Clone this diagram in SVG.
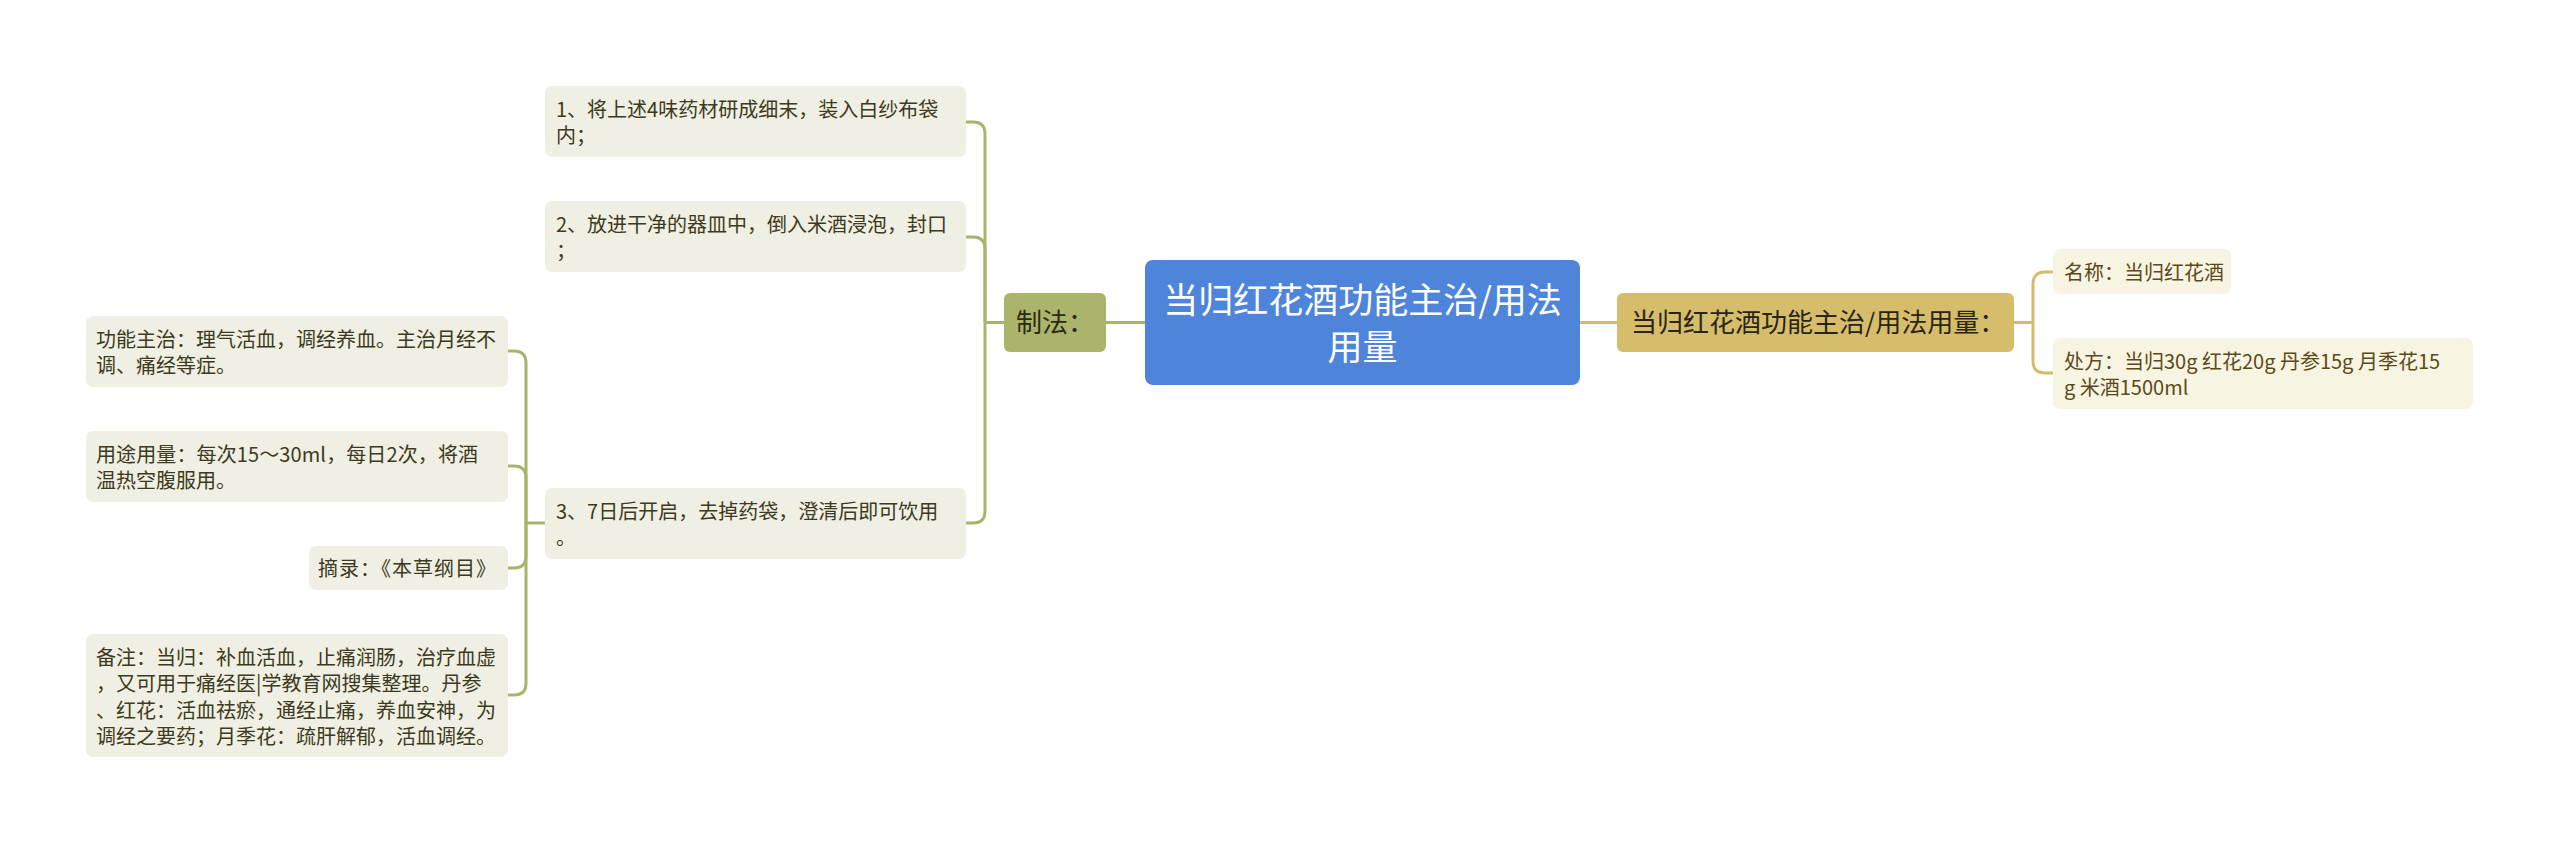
<svg xmlns="http://www.w3.org/2000/svg" width="2560" height="843" viewBox="0 0 2560 843">
<style>
text{font-family:"Noto Sans CJK SC","Noto Sans",sans-serif;}
.s{font-size:20px;fill:#3c3a20;}
.sr{font-size:20px;fill:#5a4a1a;}
.ln{fill:#efefe3;}
.rn{fill:#f8f4e2;}
.co{fill:none;stroke:#a9b36a;stroke-width:3;}
.cg{fill:none;stroke:#d3bc6d;stroke-width:3;}
</style>
<rect width="2560" height="843" fill="#ffffff"/>
<g id="connectors">
<path class="co" d="M1106,322.5H1145"/>
<path class="cg" d="M1580,322.5H1617"/>
<path class="co" d="M1004,322.5H985"/>
<path class="co" d="M985,322.5V134Q985,122 973,122H966"/>
<path class="co" d="M985,322.5V249Q985,237 973,237H966"/>
<path class="co" d="M985,322.5V511Q985,523 973,523H966"/>
<path class="co" d="M545,523H526"/>
<path class="co" d="M526,523V363Q526,351 514,351H508"/>
<path class="co" d="M526,523V478Q526,466 514,466H508"/>
<path class="co" d="M526,523V556Q526,568 514,568H508"/>
<path class="co" d="M526,523V683Q526,695 514,695H508"/>
<path class="cg" d="M2014,322.5H2033"/>
<path class="cg" d="M2033,322.5V284Q2033,272 2045,272H2053"/>
<path class="cg" d="M2033,322.5V361Q2033,373 2045,373H2053"/>
</g>
<g id="root">
<rect x="1145" y="260" width="435" height="125" rx="8" fill="#4e85da"/>
<text x="1362.5" y="313" font-size="35" fill="#ffffff" text-anchor="middle">当归红花酒功能主治/用法</text>
<text x="1362.5" y="360" font-size="35" fill="#ffffff" text-anchor="middle">用量</text>
</g>
<g id="zhifa">
<rect x="1004" y="293" width="102" height="59" rx="6" fill="#abb46b"/>
<text x="1016" y="332" font-size="26" fill="#2a2a14">制法：</text>
</g>
<g id="yongfa">
<rect x="1617" y="293" width="397" height="59" rx="6" fill="#d5bd6c"/>
<text x="1631" y="332" font-size="26" fill="#2a2412">当归红花酒功能主治/用法用量：</text>
</g>
<g id="step1">
<rect class="ln" x="545" y="86" width="421" height="71" rx="7"/>
<text class="s" x="556" y="117">1、将上述4味药材研成细末，装入白纱布袋</text>
<text class="s" x="556" y="143">内；</text>
</g>
<g id="step2">
<rect class="ln" x="545" y="201" width="421" height="71" rx="7"/>
<text class="s" x="556" y="232">2、放进干净的器皿中，倒入米酒浸泡，封口</text>
<text class="s" x="556" y="258">；</text>
</g>
<g id="step3">
<rect class="ln" x="545" y="488" width="421" height="71" rx="7"/>
<text class="s" x="556" y="519">3、7日后开启，去掉药袋，澄清后即可饮用</text>
<text class="s" x="556" y="545">。</text>
</g>
<g id="gongneng">
<rect class="ln" x="86" y="316" width="422" height="71" rx="7"/>
<text class="s" x="96" y="347">功能主治：理气活血，调经养血。主治月经不</text>
<text class="s" x="96" y="373">调、痛经等症。</text>
</g>
<g id="yongtu">
<rect class="ln" x="86" y="431" width="422" height="71" rx="7"/>
<text class="s" x="96" y="462" textLength="382" lengthAdjust="spacing">用途用量：每次15～30ml，每日2次，将酒</text>
<text class="s" x="96" y="488">温热空腹服用。</text>
</g>
<g id="zhailu">
<rect class="ln" x="309" y="546" width="199" height="44" rx="7"/>
<text class="s" x="318" y="576" textLength="178" lengthAdjust="spacing">摘录：《本草纲目》</text>
</g>
<g id="beizhu">
<rect class="ln" x="86" y="634" width="422" height="123" rx="7"/>
<text class="s" x="96" y="665">备注：当归：补血活血，止痛润肠，治疗血虚</text>
<text class="s" x="96" y="691.3">，又可用于痛经医|学教育网搜集整理。丹参</text>
<text class="s" x="96" y="717.6">、红花：活血祛瘀，通经止痛，养血安神，为</text>
<text class="s" x="96" y="744">调经之要药；月季花：疏肝解郁，活血调经。</text>
</g>
<g id="mingcheng">
<rect class="rn" x="2053" y="249" width="178" height="45" rx="7"/>
<text class="sr" x="2064" y="280">名称：当归红花酒</text>
</g>
<g id="chufang">
<rect class="rn" x="2053" y="338" width="420" height="71" rx="7"/>
<text class="sr" x="2064" y="369">处方：当归30g 红花20g 丹参15g 月季花15</text>
<text class="sr" x="2064" y="395">g 米酒1500ml</text>
</g>
</svg>
